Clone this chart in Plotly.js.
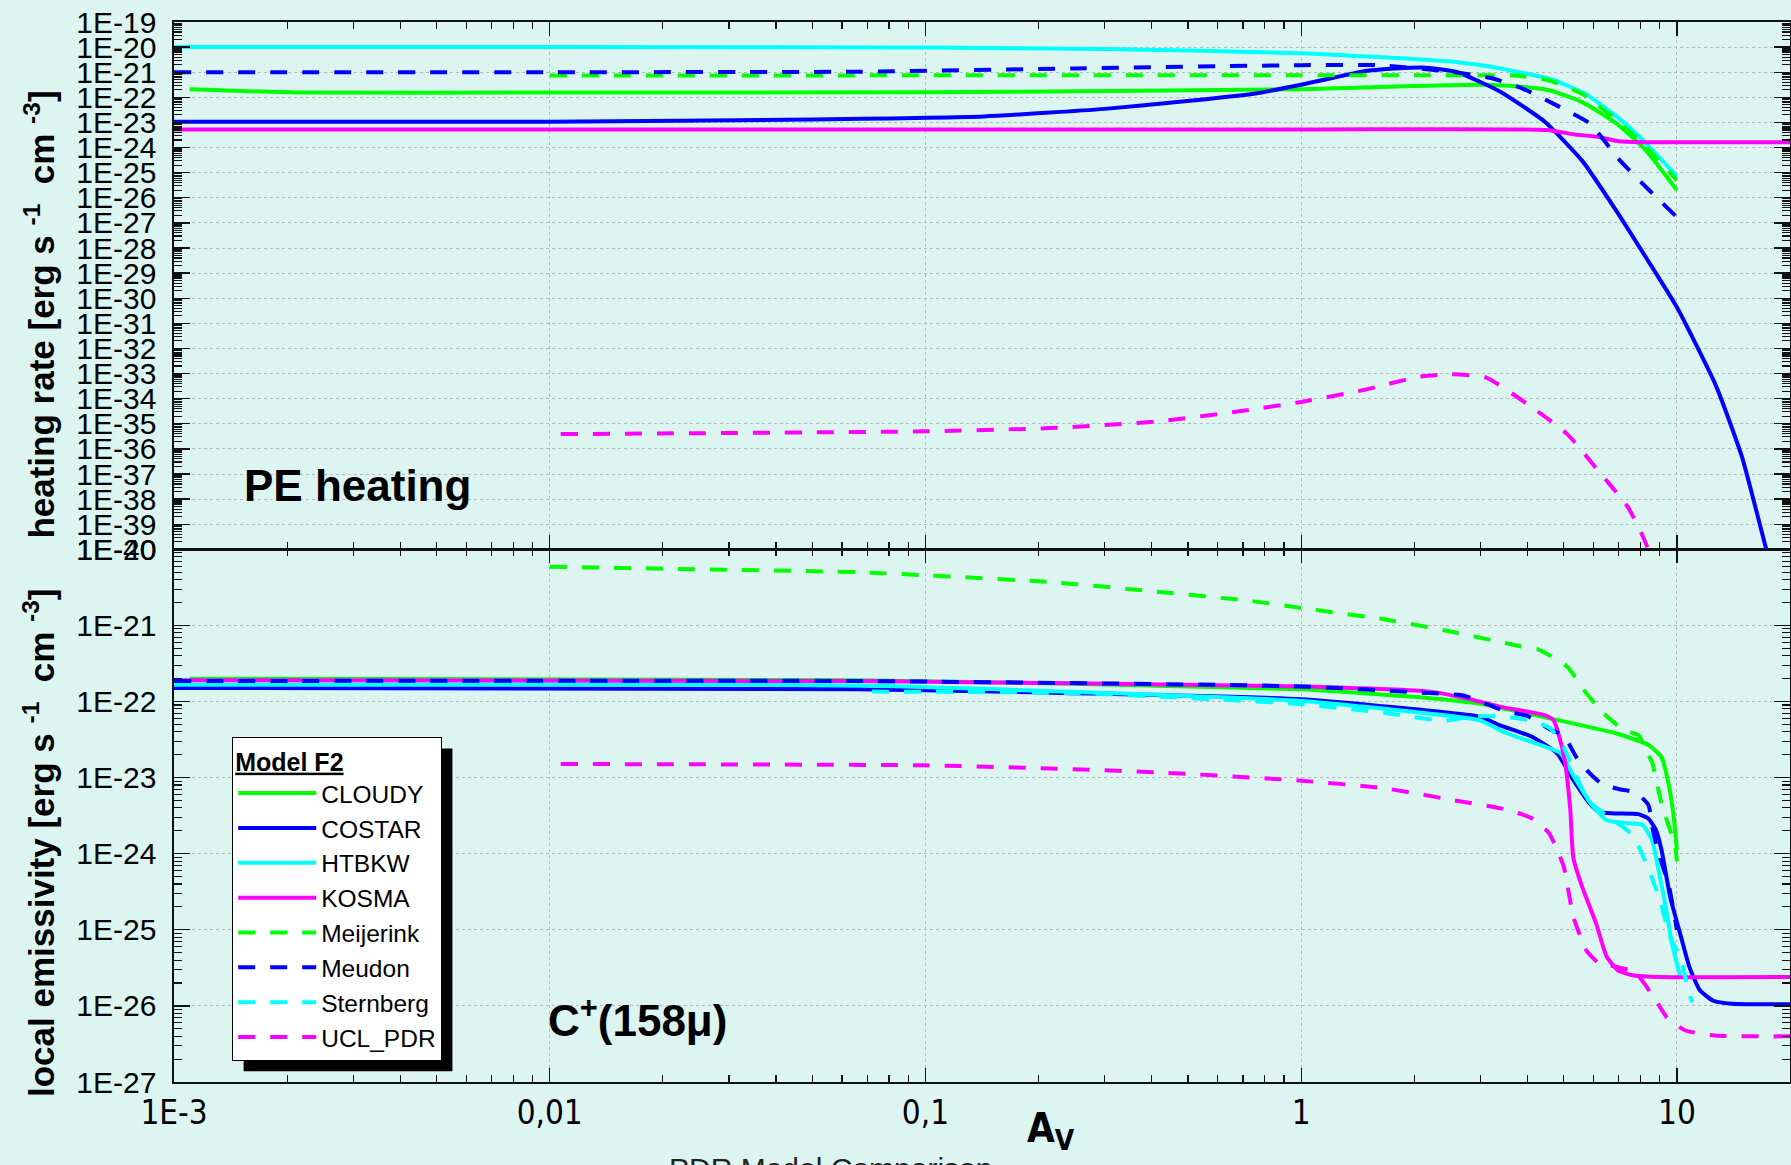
<!DOCTYPE html>
<html><head><meta charset="utf-8">
<script src="https://cdn.plot.ly/plotly-3.0.1.min.js"></script>
<style>html,body{margin:0;padding:0;background:#DDF5F0;} #chart{width:1791px;height:1165px;}</style>
</head><body><div id="chart"></div>
<script>
// ---------------- data ----------------
const modelNames = ["CLOUDY","COSTAR","HTBKW","KOSMA","Meijerink","Meudon","Sternberg","UCL_PDR"];

const xTickVals = [0.001, 0.01, 0.1, 1, 10];
const xTickText = ["1E-3", "0,01", "0,1", "1", "10"];
const heatTickVals = [1e-19,1e-20,1e-21,1e-22,1e-23,1e-24,1e-25,1e-26,1e-27,1e-28,1e-29,1e-30,1e-31,1e-32,1e-33,1e-34,1e-35,1e-36,1e-37,1e-38,1e-39,1e-40];
const heatTickText = ["1E-19","1E-20","1E-21","1E-22","1E-23","1E-24","1E-25","1E-26","1E-27","1E-28","1E-29","1E-30","1E-31","1E-32","1E-33","1E-34","1E-35","1E-36","1E-37","1E-38","1E-39","1E-40"];
const emTickVals = [1e-20,1e-21,1e-22,1e-23,1e-24,1e-25,1e-26,1e-27];
const emTickText = ["1E-20","1E-21","1E-22","1E-23","1E-24","1E-25","1E-26","1E-27"];

// PE heating rate (top panel)
const heat_CLOUDY_x = [0.0011, 0.0022, 0.01, 0.1, 1, 2, 3, 4, 4.57, 5.6, 6.9, 8.26, 10];
const heat_CLOUDY_y = [2.09e-22, 1.55e-22, 1.55e-22, 1.58e-22, 2.09e-22, 2.82e-22, 3.16e-22, 2.51e-22, 1.91e-22, 6.46e-23, 9.12e-24, 7.94e-25, 2.0e-26];
const heat_COSTAR_x = [0.001, 0.01, 0.05, 0.143, 0.3, 0.49, 0.74, 1.0, 1.5, 2.1, 2.6, 3.37, 4.45, 5.6, 6.9, 8.26, 10, 12.7, 14.9, 17.3, 18.5];
const heat_COSTAR_y = [1.07e-23, 1.07e-23, 1.32e-23, 1.74e-23, 3.47e-23, 6.92e-23, 1.35e-22, 3.16e-22, 1.15e-21, 1.55e-21, 1.0e-21, 1.74e-22, 1.07e-23, 2.95e-25, 3.02e-27, 4.37e-29, 4.37e-31, 3.31e-34, 4.79e-37, 1.0e-40, 3.0e-42];
const heat_HTBKW_x = [0.001, 0.01, 0.1, 0.3, 1, 2.58, 3.37, 4.65, 5.7, 7.0, 8.26, 10];
const heat_HTBKW_y = [1.0e-20, 1.0e-20, 9.55e-21, 8.32e-21, 5.75e-21, 2.57e-21, 1.45e-21, 5.13e-22, 1.38e-22, 1.48e-23, 1.51e-24, 7.24e-26];
const heat_KOSMA_x = [0.001, 1, 4.5, 5.3, 6.2, 7.0, 8.0, 20];
const heat_KOSMA_y = [5.25e-24, 5.25e-24, 5.01e-24, 3.39e-24, 2.63e-24, 1.78e-24, 1.62e-24, 1.62e-24];
const heat_Meijerink_x = [0.01, 1, 2.9, 3.7, 4.57, 5.6, 6.9, 8.26, 10];
const heat_Meijerink_y = [7.41e-22, 7.59e-22, 7.59e-22, 7.41e-22, 4.68e-22, 1.35e-22, 1.26e-23, 1.10e-24, 4.90e-26];
const heat_Meudon_x = [0.001, 0.01, 0.066, 0.25, 1.0, 1.6, 2.5, 3.22, 3.9, 4.8, 5.86, 7.0, 8.4, 10];
const heat_Meudon_y = [1.0e-21, 1.0e-21, 1.05e-21, 1.41e-21, 1.91e-21, 1.91e-21, 1.05e-21, 5.75e-22, 2.19e-22, 4.68e-23, 9.12e-24, 3.47e-25, 2.14e-26, 1.70e-27];
const heat_UCL_PDR_x = [0.0107, 0.1, 0.215, 0.42, 0.74, 1.0, 1.46, 2.07, 2.5, 3.1, 4.1, 5.1, 6.2, 7.4, 8.1, 8.7];
const heat_UCL_PDR_y = [3.89e-36, 5.01e-36, 6.76e-36, 1.26e-35, 3.72e-35, 7.41e-35, 2.19e-34, 7.59e-34, 9.33e-34, 7.08e-34, 4.68e-35, 3.98e-36, 1.26e-37, 4.90e-39, 3.55e-40, 2.51e-41];

// C+ (158 micron) local emissivity (bottom panel)
const em_CLOUDY_x = [0.0011, 0.066, 1.0, 2.48, 3.0, 4.57, 6.9, 8.4, 9.1, 9.5, 9.8, 10];
const em_CLOUDY_y = [2.0e-22, 1.91e-22, 1.45e-22, 1.05e-22, 9.33e-23, 6.03e-23, 3.80e-23, 2.69e-23, 1.86e-23, 8.32e-24, 3.16e-24, 1.12e-24];
const em_COSTAR_x = [0.001, 0.066, 1.0, 2.2, 3.0, 3.37, 4.1, 4.8, 5.3, 5.86, 6.2, 6.8, 7.9, 8.4, 8.8, 9.1, 9.6, 10.2, 10.8, 11.5, 12.5, 14, 20];
const em_COSTAR_y = [1.51e-22, 1.45e-22, 1.07e-22, 7.59e-23, 6.31e-23, 4.90e-23, 3.47e-23, 2.09e-23, 9.33e-24, 4.57e-24, 3.55e-24, 3.39e-24, 3.31e-24, 2.88e-24, 2.04e-24, 1.12e-24, 2.69e-25, 8.91e-26, 3.24e-26, 1.62e-26, 1.17e-26, 1.07e-26, 1.05e-26];
const em_HTBKW_x = [0.001, 0.066, 1.0, 2.2, 3.0, 3.5, 4.1, 4.9, 5.3, 5.9, 6.5, 7.5, 8.1, 8.6, 8.9, 9.3, 9.7, 10.2];
const em_HTBKW_y = [1.66e-22, 1.62e-22, 1.02e-22, 6.92e-23, 5.62e-23, 3.89e-23, 2.95e-23, 2.09e-23, 1.07e-23, 4.57e-24, 2.75e-24, 2.51e-24, 2.40e-24, 1.48e-24, 6.76e-25, 2.24e-25, 6.61e-26, 2.51e-26];
const em_KOSMA_x = [0.001, 0.066, 1.0, 2.2, 2.87, 3.4, 4.45, 4.7, 5.0, 5.2, 5.3, 5.6, 6.1, 6.5, 7.0, 7.7, 9, 20];
const em_KOSMA_y = [1.91e-22, 1.86e-22, 1.58e-22, 1.35e-22, 1.05e-22, 8.51e-23, 6.61e-23, 5.62e-23, 2.0e-23, 3.98e-24, 8.91e-25, 3.63e-25, 1.20e-25, 4.47e-26, 2.88e-26, 2.51e-26, 2.40e-26, 2.40e-26];
const em_Meijerink_x = [0.01, 0.066, 0.1, 0.215, 0.42, 0.74, 1.0, 1.67, 2.5, 3.8, 4.3, 5.1, 5.7, 6.3, 7.2, 7.9, 8.2, 8.6, 9.1, 9.9, 10];
const em_Meijerink_y = [5.89e-21, 5.01e-21, 4.57e-21, 3.72e-21, 2.75e-21, 2.09e-21, 1.70e-21, 1.20e-21, 8.32e-22, 5.37e-22, 4.79e-22, 2.88e-22, 1.35e-22, 7.41e-23, 4.27e-23, 3.63e-23, 2.51e-23, 1.55e-23, 4.57e-24, 1.23e-24, 7.94e-25];
const em_Meudon_x = [0.001, 0.066, 1.0, 2.2, 2.7, 3.0, 3.5, 4.0, 4.57, 5.0, 5.4, 5.75, 6.3, 7.0, 7.8, 8.4, 8.6, 8.9, 9.5, 10];
const em_Meudon_y = [1.86e-22, 1.86e-22, 1.58e-22, 1.29e-22, 1.20e-22, 1.0e-22, 7.41e-23, 6.46e-23, 4.37e-23, 3.55e-23, 1.86e-23, 1.26e-23, 8.32e-24, 7.08e-24, 6.31e-24, 4.37e-24, 2.24e-24, 1.07e-24, 3.98e-25, 1.0e-25];
const em_Sternberg_x = [0.072, 0.25, 0.97, 1.67, 2.4, 2.9, 3.5, 4.1, 4.6, 5.0, 5.4, 5.8, 6.5, 7.4, 7.9, 8.4, 9.0, 9.6, 10.2, 10.8, 11.0];
const em_Sternberg_y = [1.35e-22, 1.29e-22, 9.33e-23, 7.08e-23, 5.62e-23, 6.46e-23, 6.31e-23, 5.62e-23, 4.47e-23, 2.51e-23, 1.05e-23, 5.01e-24, 3.16e-24, 2.0e-24, 1.26e-24, 6.31e-25, 2.51e-25, 7.94e-26, 4.47e-26, 1.41e-26, 1.12e-26];
const em_UCL_PDR_x = [0.0107, 0.1, 0.215, 0.42, 1.0, 1.67, 2.5, 3.45, 4.1, 4.57, 4.8, 5.0, 5.3, 5.5, 5.7, 6.2, 6.8, 7.7, 8.2, 8.9, 9.4, 10.5, 12.6, 20];
const em_UCL_PDR_y = [1.51e-23, 1.45e-23, 1.32e-23, 1.17e-23, 9.12e-24, 7.24e-24, 5.13e-24, 3.89e-24, 2.95e-24, 1.86e-24, 1.12e-24, 6.76e-25, 1.48e-25, 8.91e-26, 5.62e-26, 3.63e-26, 3.31e-26, 2.82e-26, 1.95e-26, 1.07e-26, 7.08e-27, 4.79e-27, 4.07e-27, 3.98e-27];

// ---------------- styling ----------------
const colorOf = {CLOUDY:'#00FF00', COSTAR:'#0000FF', HTBKW:'#00FFFF', KOSMA:'#FF00FF',
                 Meijerink:'#00FF00', Meudon:'#0000FF', Sternberg:'#00FFFF', UCL_PDR:'#FF00FF'};
const dashOf = {CLOUDY:'solid', COSTAR:'solid', HTBKW:'solid', KOSMA:'solid',
                Meijerink:'17px,15px', Meudon:'17px,15px', Sternberg:'17px,15px', UCL_PDR:'17px,15px'};

const heatSeries = {CLOUDY:[heat_CLOUDY_x,heat_CLOUDY_y], COSTAR:[heat_COSTAR_x,heat_COSTAR_y],
  HTBKW:[heat_HTBKW_x,heat_HTBKW_y], KOSMA:[heat_KOSMA_x,heat_KOSMA_y],
  Meijerink:[heat_Meijerink_x,heat_Meijerink_y], Meudon:[heat_Meudon_x,heat_Meudon_y],
  UCL_PDR:[heat_UCL_PDR_x,heat_UCL_PDR_y]};
const emSeries = {CLOUDY:[em_CLOUDY_x,em_CLOUDY_y], COSTAR:[em_COSTAR_x,em_COSTAR_y],
  HTBKW:[em_HTBKW_x,em_HTBKW_y], KOSMA:[em_KOSMA_x,em_KOSMA_y],
  Meijerink:[em_Meijerink_x,em_Meijerink_y], Meudon:[em_Meudon_x,em_Meudon_y],
  Sternberg:[em_Sternberg_x,em_Sternberg_y], UCL_PDR:[em_UCL_PDR_x,em_UCL_PDR_y]};

const data = [];
modelNames.forEach(function(n){
  const s = emSeries[n];
  if(!s) return;
  data.push({type:'scatter', mode:'lines', name:n, legendgroup:n, showlegend:true,
    x:s[0], y:s[1], xaxis:'x', yaxis:'y',
    line:{color:colorOf[n], width:4, dash:dashOf[n], shape:'spline', smoothing:0.5}});
});
modelNames.forEach(function(n){
  const s = heatSeries[n];
  if(!s) return;
  data.push({type:'scatter', mode:'lines', name:n, legendgroup:n, showlegend:false,
    x:s[0], y:s[1], xaxis:'x2', yaxis:'y2',
    line:{color:colorOf[n], width:4, dash:dashOf[n], shape:'spline', smoothing:0.5}});
});

const BG = '#DDF5F0';
const FONT = 'Liberation Sans, Arial, sans-serif';
const NARROW = 'Liberation Sans Narrow, Arial Narrow, DejaVu Sans Condensed, Liberation Sans, sans-serif';

function xAxisStyle(extra){
  return Object.assign({
    type:'log', range:[-3, Math.log10(20)], tickmode:'array',
    tickvals:xTickVals, ticktext:xTickText,
    ticks:'inside', ticklen:14, tickwidth:1.3, tickcolor:'#111',
    showline:true, linecolor:'#111', linewidth:1.6, mirror:'allticks',
    showgrid:true, gridcolor:'#b8b8b8', gridwidth:1, griddash:'dot',
    zeroline:false,
    minor:{ticks:'inside', ticklen:7, tickwidth:1.2, tickcolor:'#111', dtick:'D1', showgrid:false},
    tickfont:{family:NARROW, size:33, color:'#000'}, ticklabelstandoff:1
  }, extra);
}
function yAxisStyle(extra){
  return Object.assign({
    type:'log', tickmode:'array',
    ticks:'inside', ticklen:16, tickwidth:1.3, tickcolor:'#111',
    showline:true, linecolor:'#111', linewidth:1.6, mirror:'allticks',
    showgrid:true, gridcolor:'#b8b8b8', gridwidth:1, griddash:'dot',
    zeroline:false,
    minor:{ticks:'inside', ticklen:8, tickwidth:1.1, tickcolor:'#111', dtick:'D1', showgrid:false},
    tickfont:{family:FONT, size:30, color:'#000'}, ticklabelstandoff:10
  }, extra);
}

const layout = {
  width:1791, height:1165,
  margin:{l:174, r:1, t:22, b:83},
  paper_bgcolor:BG, plot_bgcolor:BG,
  font:{family:FONT, color:'#000'},
  showlegend:true, hovermode:false,
  xaxis: xAxisStyle({anchor:'y', domain:[0,1]}),
  xaxis2: xAxisStyle({anchor:'y2', matches:'x', showticklabels:false}),
  yaxis: yAxisStyle({domain:[0,0.5025], range:[-27,-20], tickvals:emTickVals, ticktext:emTickText, anchor:'x'}),
  yaxis2: yAxisStyle({domain:[0.5025,1], range:[-40,-19], tickvals:heatTickVals, ticktext:heatTickText, anchor:'x2'}),
  legend:{x:0.0359, y:0.3255, xanchor:'left', yanchor:'top',
    bgcolor:'#FFFFFF', bordercolor:'#000', borderwidth:1.2,
    font:{family:FONT, size:24.5, color:'#000'},
    title:{text:'<b><u>Model F2</u></b>', font:{family:FONT, size:25, color:'#000'}},
    itemwidth:78, tracegroupgap:0, traceorder:'normal'},
  annotations:[
    {text:'<b>heating rate [erg s <sup>-1</sup>  cm <sup>-3</sup>]</b>', textangle:-90,
     xref:'paper', yref:'paper', x:-0.0835, y:0.724, xanchor:'center', yanchor:'middle',
     showarrow:false, font:{family:FONT, size:35, color:'#000'}},
    {text:'<b>local emissivity [erg s <sup>-1</sup>  cm <sup>-3</sup>]</b>', textangle:-90,
     xref:'paper', yref:'paper', x:-0.0835, y:0.2255, xanchor:'center', yanchor:'middle',
     showarrow:false, font:{family:FONT, size:35, color:'#000'}},
    {text:'<b>PE heating</b>', xref:'paper', yref:'paper', x:0.042, y:0.563,
     xanchor:'left', yanchor:'middle', showarrow:false, font:{family:FONT, size:44, color:'#000'}},
    {text:'<b>C<sup>+</sup>(158μ)</b>', xref:'paper', yref:'paper', x:0.230, y:0.061,
     xanchor:'left', yanchor:'middle', showarrow:false, font:{family:FONT, size:44, color:'#000'}},
    {text:'<b>A<sub>V</sub></b>', xref:'paper', yref:'paper', x:0.5266, y:-0.020,
     xanchor:'left', yanchor:'top', showarrow:false, font:{family:NARROW, size:40, color:'#000'}},
    {text:'PDR Model Comparison', xref:'paper', yref:'paper', x:0.4065, y:-0.064,
     xanchor:'center', yanchor:'top', showarrow:false, font:{family:FONT, size:30, color:'#222'}}
  ]
};

const gd = document.getElementById('chart');
Plotly.newPlot(gd, data, layout, {displayModeBar:false, staticPlot:true}).then(function(){
  const bg = gd.querySelector('.legend rect.bg');
  if(!bg) return;
  const r = bg.getBoundingClientRect();
  const g = gd.getBoundingClientRect();
  const s = gd._fullLayout._size;
  const off = 11;
  const px = function(v){ return (v - s.l) / s.w; };
  const py = function(v){ return 1 - (v - s.t) / s.h; };
  const x0 = r.left - g.left + off, x1 = r.right - g.left + off;
  const y0 = r.top - g.top + off, y1 = r.bottom - g.top + off;
  return Plotly.relayout(gd, {shapes:[{type:'rect', xref:'paper', yref:'paper',
    x0:px(x0), x1:px(x1), y0:py(y1), y1:py(y0), fillcolor:'#000', line:{width:0}, layer:'above'}]});
});
</script>
</body></html>
